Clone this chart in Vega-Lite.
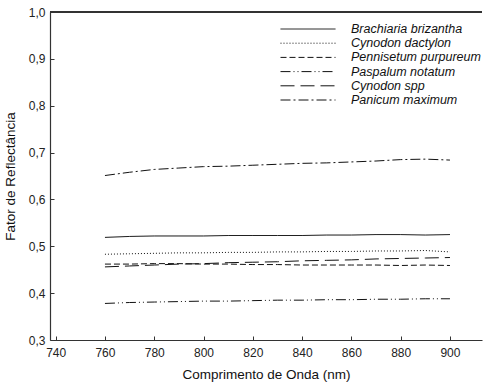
{
  "$schema": "https://vega.github.io/schema/vega-lite/v6.json",
  "width": 432,
  "height": 328,
  "autosize": {"type": "none"},
  "padding": {"left": 50, "top": 12, "right": 2, "bottom": 44},
  "background": "white",
  "config": {
    "view": {"stroke": null},
    "font": "Liberation Sans",
    "axis": {
      "domainColor": "#333",
      "tickColor": "#333",
      "labelColor": "#222",
      "titleColor": "#111",
      "labelFont": "Liberation Sans",
      "titleFont": "Liberation Sans",
      "labelFontSize": 12,
      "titleFontSize": 13.5,
      "titleFontWeight": "normal",
      "grid": false,
      "tickSize": -4,
      "domainWidth": 1.2
    }
  },
  "data": {
    "values": [
      {"wl": 760, "Brachiaria brizantha": 0.519, "Cynodon dactylon": 0.483, "Pennisetum purpureum": 0.462, "Paspalum notatum": 0.378, "Cynodon spp": 0.456, "Panicum maximum": 0.651},
      {"wl": 770, "Brachiaria brizantha": 0.521, "Cynodon dactylon": 0.484, "Pennisetum purpureum": 0.462, "Paspalum notatum": 0.380, "Cynodon spp": 0.458, "Panicum maximum": 0.658},
      {"wl": 780, "Brachiaria brizantha": 0.522, "Cynodon dactylon": 0.485, "Pennisetum purpureum": 0.463, "Paspalum notatum": 0.381, "Cynodon spp": 0.460, "Panicum maximum": 0.664},
      {"wl": 790, "Brachiaria brizantha": 0.522, "Cynodon dactylon": 0.486, "Pennisetum purpureum": 0.463, "Paspalum notatum": 0.382, "Cynodon spp": 0.462, "Panicum maximum": 0.667},
      {"wl": 800, "Brachiaria brizantha": 0.522, "Cynodon dactylon": 0.486, "Pennisetum purpureum": 0.462, "Paspalum notatum": 0.383, "Cynodon spp": 0.463, "Panicum maximum": 0.670},
      {"wl": 810, "Brachiaria brizantha": 0.523, "Cynodon dactylon": 0.487, "Pennisetum purpureum": 0.462, "Paspalum notatum": 0.383, "Cynodon spp": 0.465, "Panicum maximum": 0.671},
      {"wl": 820, "Brachiaria brizantha": 0.523, "Cynodon dactylon": 0.487, "Pennisetum purpureum": 0.461, "Paspalum notatum": 0.384, "Cynodon spp": 0.466, "Panicum maximum": 0.673},
      {"wl": 830, "Brachiaria brizantha": 0.523, "Cynodon dactylon": 0.488, "Pennisetum purpureum": 0.461, "Paspalum notatum": 0.385, "Cynodon spp": 0.467, "Panicum maximum": 0.675},
      {"wl": 840, "Brachiaria brizantha": 0.523, "Cynodon dactylon": 0.488, "Pennisetum purpureum": 0.460, "Paspalum notatum": 0.385, "Cynodon spp": 0.469, "Panicum maximum": 0.677},
      {"wl": 850, "Brachiaria brizantha": 0.524, "Cynodon dactylon": 0.489, "Pennisetum purpureum": 0.460, "Paspalum notatum": 0.386, "Cynodon spp": 0.470, "Panicum maximum": 0.678},
      {"wl": 860, "Brachiaria brizantha": 0.524, "Cynodon dactylon": 0.489, "Pennisetum purpureum": 0.460, "Paspalum notatum": 0.386, "Cynodon spp": 0.471, "Panicum maximum": 0.680},
      {"wl": 870, "Brachiaria brizantha": 0.525, "Cynodon dactylon": 0.490, "Pennisetum purpureum": 0.460, "Paspalum notatum": 0.387, "Cynodon spp": 0.473, "Panicum maximum": 0.682},
      {"wl": 880, "Brachiaria brizantha": 0.525, "Cynodon dactylon": 0.490, "Pennisetum purpureum": 0.459, "Paspalum notatum": 0.387, "Cynodon spp": 0.474, "Panicum maximum": 0.685},
      {"wl": 890, "Brachiaria brizantha": 0.524, "Cynodon dactylon": 0.491, "Pennisetum purpureum": 0.460, "Paspalum notatum": 0.388, "Cynodon spp": 0.475, "Panicum maximum": 0.686},
      {"wl": 900, "Brachiaria brizantha": 0.525, "Cynodon dactylon": 0.488, "Pennisetum purpureum": 0.459, "Paspalum notatum": 0.388, "Cynodon spp": 0.476, "Panicum maximum": 0.684}
    ]
  },
  "layer": [
    {
      "transform": [
        {"fold": ["Brachiaria brizantha", "Cynodon dactylon", "Pennisetum purpureum", "Paspalum notatum", "Cynodon spp", "Panicum maximum"], "as": ["species", "value"]}
      ],
      "mark": {"type": "line", "color": "#111", "strokeWidth": 1},
      "encoding": {
        "x": {
          "field": "wl", "type": "quantitative",
          "scale": {"domain": [737.7, 913], "nice": false, "zero": false},
          "axis": {"values": [740, 760, 780, 800, 820, 840, 860, 880, 900], "title": "Comprimento de Onda (nm)", "labelPadding": 11, "titlePadding": 9}
        },
        "y": {
          "field": "value", "type": "quantitative",
          "scale": {"domain": [0.3, 1.0], "nice": false, "zero": false},
          "axis": {"values": [0.3, 0.4, 0.5, 0.6, 0.7, 0.8, 0.9, 1.0], "labelExpr": "replace(format(datum.value, '.1f'), '.', ',')", "title": "Fator de Reflectância", "labelPadding": 9, "titlePadding": 11}
        },
        "strokeDash": {
          "field": "species", "type": "nominal",
          "scale": {
            "domain": ["Brachiaria brizantha", "Cynodon dactylon", "Pennisetum purpureum", "Paspalum notatum", "Cynodon spp", "Panicum maximum"],
            "range": [[1, 0], [1, 2], [6, 3], [10, 3, 1, 3, 1, 3], [14, 6], [10, 3, 2, 3]]
          },
          "legend": {
            "title": null,
            "orient": "none",
            "legendX": 230,
            "legendY": 10,
            "symbolType": "stroke",
            "symbolSize": 3025,
            "symbolStrokeWidth": 1,
            "symbolStrokeColor": "#111",
            "labelFont": "Liberation Sans",
            "labelFontSize": 12.5,
            "labelFontStyle": "italic",
            "labelColor": "#111",
            "labelOffset": 15,
            "clipHeight": 14,
            "rowPadding": 0.2,
            "labelLimit": 300
          }
        }
      }
    },
    {
      "mark": {"type": "rule", "color": "#333", "strokeWidth": 1.2},
      "encoding": {"y": {"datum": 1.0}}
    }
  ]
}
